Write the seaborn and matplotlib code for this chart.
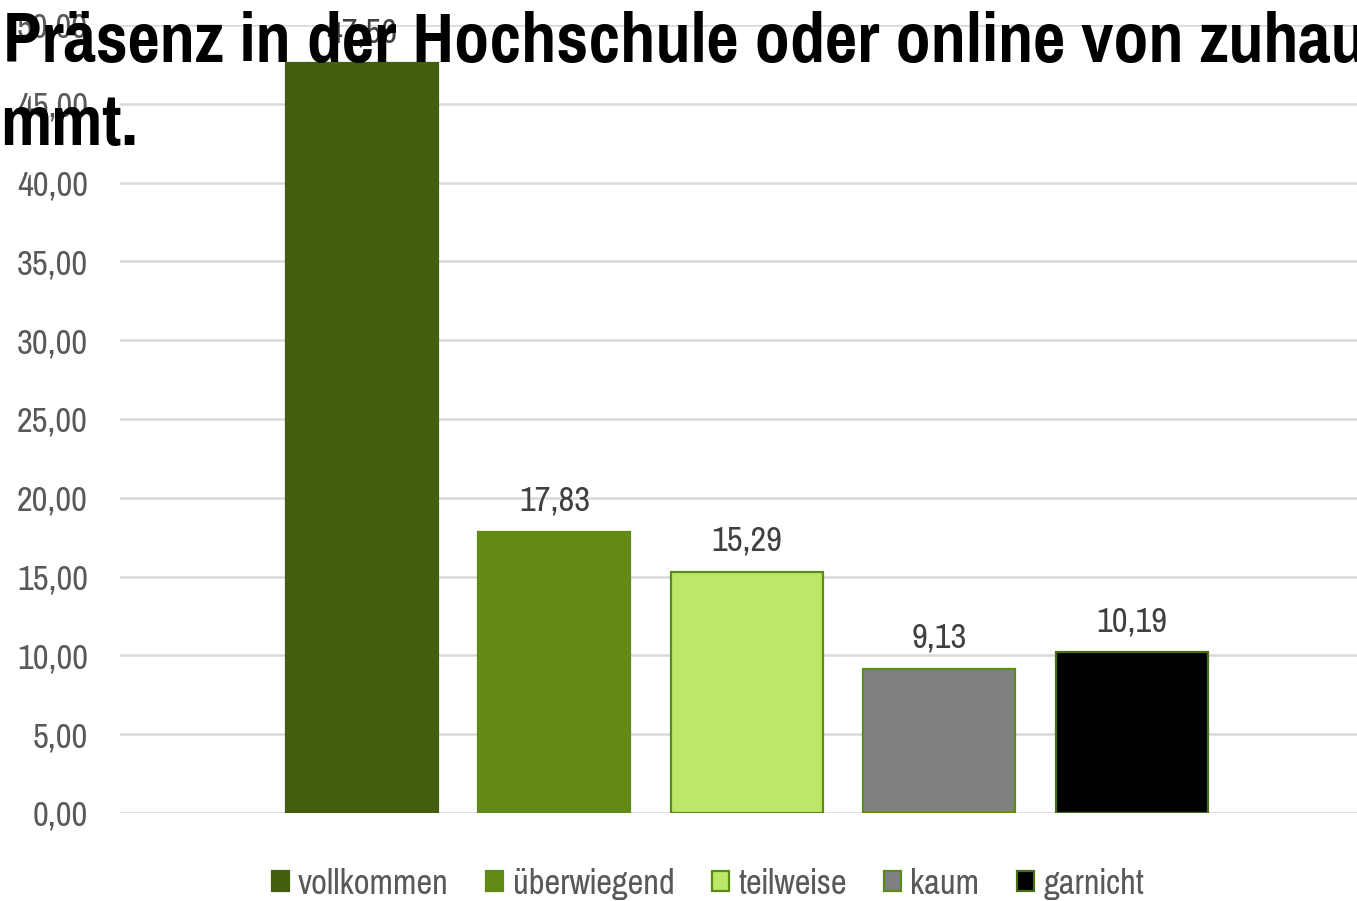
import matplotlib
matplotlib.use("Agg")
import matplotlib.pyplot as plt
from matplotlib.patches import Patch
import seaborn as sns

categories = ["vollkommen", "überwiegend", "teilweise", "kaum", "garnicht"]
values = [47.56, 17.83, 15.29, 9.13, 10.19]
colors = ["#435E0F", "#638A14", "#BCE868", "#808080", "#000000"]
edge_colors = ["#435E0F", "#5E8A18", "#5E8A18", "#5E8A18", "#4A6E16"]
yticks = [0, 5, 10, 15, 20, 25, 30, 35, 40, 45, 50]
title_line1 = "Präsenz in der Hochschule oder online von zuhause"
title_line2 = "mmt."

sns.set_theme(style="white")
plt.rcParams["font.family"] = ["Pragati Narrow", "Archivo Narrow", "Liberation Sans", "DejaVu Sans"]

fig = plt.figure(figsize=(13.57, 9.01), dpi=100)
ax = fig.add_axes([120 / 1357, 1 - 813 / 901, 1 - 120 / 1357, (813 - 25) / 901])

sns.barplot(x=categories, y=values, hue=categories, palette=colors, width=0.79,
            legend=False, ax=ax, saturation=1, zorder=3)
for patch, ec in zip(ax.patches, edge_colors):
    patch.set_edgecolor(ec)
    patch.set_linewidth(1.6)

def de(v):
    return f"{v:.2f}".replace(".", ",")

# value labels above the bars
for i, v in enumerate(values):
    ax.annotate(de(v), (i, v), xytext=(0, 11), textcoords="offset points",
                ha="center", va="bottom", fontsize=27, color="#404040")

ax.set_ylim(0, 50)
ax.set_xlim(-1.257, 5.17)
ax.set_yticks(yticks)
ax.set_yticklabels([de(t) for t in yticks], fontsize=27, color="#595959")
ax.set_xticks([])
ax.tick_params(axis="y", length=0, pad=23)
ax.grid(axis="y", color="#D9D9D9", linewidth=1.8, zorder=0)
ax.set_axisbelow(True)
for s in ax.spines.values():
    s.set_visible(False)
ax.set_xlabel("")
ax.set_ylabel("")

handles = [Patch(facecolor=c, edgecolor=e, linewidth=1.6) for c, e in zip(colors, edge_colors)]
fig.legend(handles, categories, loc="center", bbox_to_anchor=(708 / 1357, 1 - 884 / 901),
           ncol=5, frameon=False, fontsize=27, labelcolor="#595959",
           handlelength=0.45, handleheight=0.45, handletextpad=0.25, columnspacing=1.0)

fig.text(3 / 1357, 1 - 62 / 901, title_line1, fontsize=55, fontweight="bold",
         color="black", ha="left", va="baseline")
fig.text(0, 1 - 145 / 901, title_line2, fontsize=55, fontweight="bold",
         color="black", ha="left", va="baseline")

fig.savefig("out.png", dpi=100)
